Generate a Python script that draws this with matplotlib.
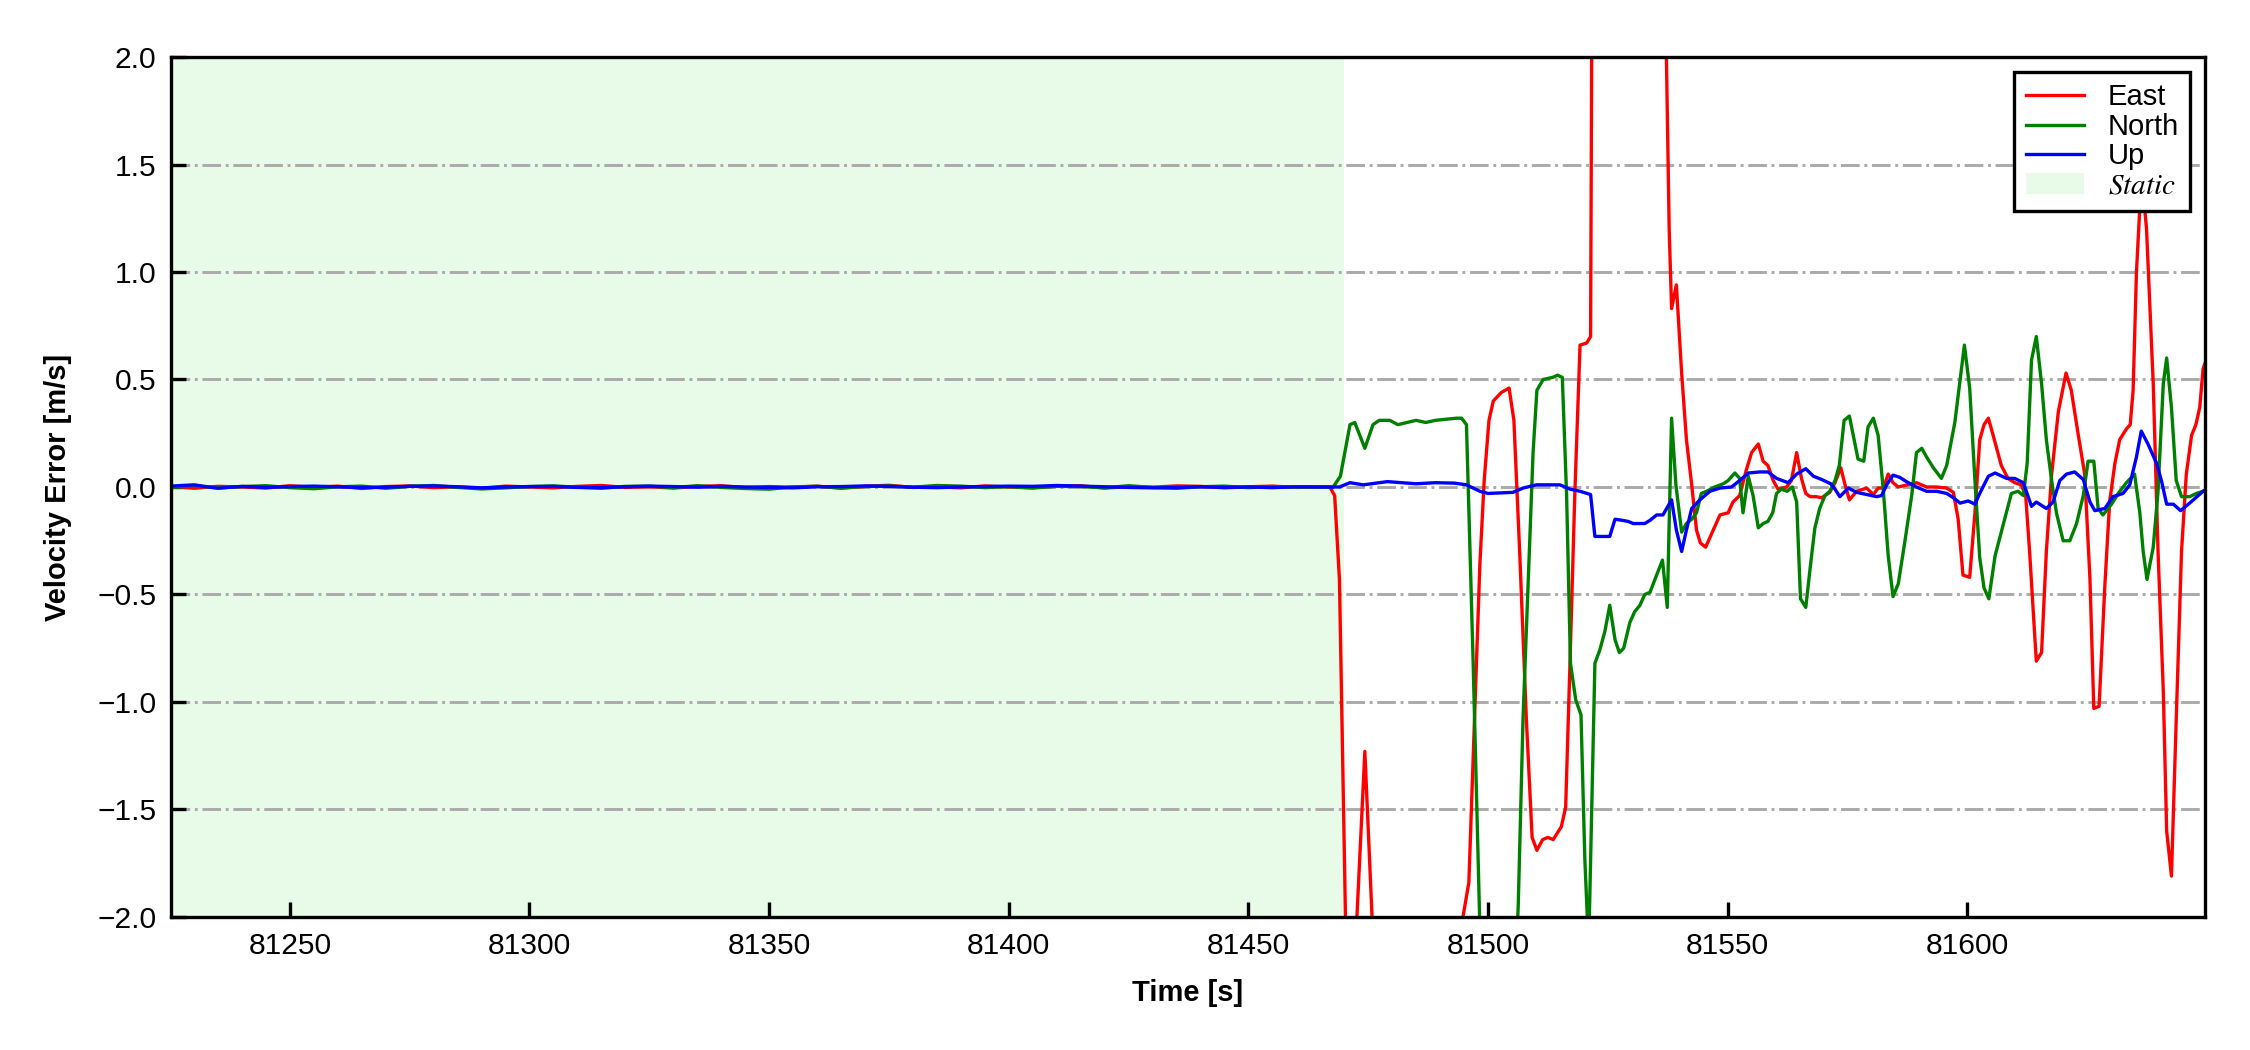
import numpy as np
import matplotlib
matplotlib.use("Agg")
import matplotlib.pyplot as plt

plt.rcParams['font.family'] = ['Liberation Sans', 'DejaVu Sans']
plt.rcParams['mathtext.fontset'] = 'stix'

# static period (timestamps every 5 s), near-zero errors
static_t = np.arange(81225, 81466, 5)
static_end = 81470
east_static = [0.004, -0.006, 0.003, 0.000, -0.005, 0.006, -0.002, 0.004, -0.007, 0.002,
               0.005, -0.003, 0.001, -0.006, 0.004, 0.000, -0.004, 0.003, 0.007, -0.002,
               0.001, -0.005, 0.003, 0.006, -0.003, 0.002, -0.001, 0.004, -0.006, 0.003,
               0.008, -0.002, 0.001, -0.004, 0.005, 0.000, -0.003, 0.004, 0.006, -0.005,
               0.002, -0.001, 0.005, 0.003, -0.004, 0.001, 0.004, -0.002, 0.000]
north_static = [-0.003, 0.005, -0.004, 0.002, 0.006, -0.003, -0.008, 0.001, 0.004, -0.006,
                0.003, 0.007, -0.002, -0.009, -0.004, 0.002, 0.005, -0.001, -0.006, 0.003,
                0.004, -0.003, 0.006, -0.002, -0.007, -0.010, 0.001, 0.003, -0.004, 0.002,
                0.005, -0.001, 0.007, 0.004, -0.003, 0.001, -0.005, 0.003, 0.002, -0.004,
                0.006, -0.002, -0.006, 0.001, 0.004, -0.003, 0.002, -0.001, 0.000]
up_static = [0.004, 0.010, -0.006, 0.003, -0.002, 0.002, 0.004, 0.001, -0.003, -0.001,
             0.003, 0.005, 0.001, -0.004, 0.000, 0.002, 0.003, -0.002, -0.003, 0.001,
             0.004, 0.002, -0.001, 0.003, 0.000, -0.002, -0.004, 0.001, 0.002, 0.005,
             0.003, -0.001, -0.003, 0.000, 0.002, 0.004, 0.003, 0.007, 0.004, 0.001,
             -0.002, -0.004, -0.003, 0.001, -0.002, 0.000, -0.003, 0.001, 0.000]

# dynamic period
east_t = [81467, 81468, 81469, 81470.5, 81471, 81472, 81474.3, 81476, 81478, 81482, 81486,
          81490, 81494, 81495, 81496, 81498.3, 81499.2, 81500.2, 81501.1, 81502.8, 81504.4,
          81505.4, 81506.6, 81508, 81509.2, 81510.2, 81511.4, 81512.5, 81513.6, 81515.3,
          81516.2, 81517.1, 81518.1, 81519.2, 81520.6, 81521.4, 81521.7, 81525, 81530,
          81535, 81537, 81537.8, 81538.3, 81539.3, 81540.4, 81541.4, 81542.5, 81543.5,
          81544.3, 81545.4, 81547, 81548.4, 81550.1, 81551.1, 81552.5, 81553.9, 81555,
          81556.4, 81557.4, 81558.4, 81559.5, 81560.5, 81562.3, 81563.3, 81564.4, 81565.4,
          81566.3, 81567.2, 81568.5, 81569.6, 81571.3, 81572.4, 81573.6, 81574.5, 81575.4,
          81576.9, 81579, 81580.4, 81581.4, 81582.5, 81583.5, 81584.5, 81585.6, 81589.4,
          81591.5, 81593.6, 81595.7, 81597.1, 81598.1, 81599.1, 81600.5, 81601.6, 81602.6,
          81603.5, 81604.4, 81605.4, 81607.1, 81608.5, 81609.9, 81611.3, 81612.2, 81613,
          81614.4, 81615.5, 81616.5, 81617.6, 81619, 81620.6, 81621.7, 81623.1, 81624.5,
          81625.6, 81626.4, 81627.5, 81628.7, 81629.7, 81630.8, 81631.8, 81633.2, 81634,
          81634.6, 81635.3, 81636, 81636.8, 81637.4, 81638.8, 81639.8, 81640.9, 81641.6,
          81642.6, 81643.6, 81644.7, 81645.7, 81646.8, 81647.7, 81648.5, 81649.2, 81650]
east_v = [0.0, -0.04, -0.43, -2.3, -2.6, -2.3, -1.23, -2.1, -2.6, -2.8, -2.7,
          -2.5, -2.1, -1.97, -1.84, -0.36, 0.03, 0.31, 0.40, 0.44, 0.46,
          0.31, -0.30, -1.08, -1.63, -1.69, -1.64, -1.63, -1.64, -1.58,
          -1.49, -0.82, -0.04, 0.66, 0.67, 0.70, 2.4, 3.1, 3.4,
          2.9, 2.3, 1.2, 0.83, 0.94, 0.53, 0.22, 0.01, -0.20,
          -0.26, -0.28, -0.20, -0.13, -0.12, -0.07, -0.04, 0.08, 0.16,
          0.20, 0.12, 0.10, 0.03, -0.01, 0.0, 0.03, 0.16, 0.04,
          -0.03, -0.045, -0.045, -0.05, -0.025, 0.02, 0.09, 0.01, -0.06,
          -0.02, -0.005, -0.035, -0.005, -0.005, 0.06, 0.02, 0.0, 0.02,
          0.0, 0.0, -0.005, -0.025, -0.15, -0.41, -0.42, -0.12, 0.22,
          0.29, 0.32, 0.24, 0.10, 0.04, 0.02, 0.01, -0.045, -0.30,
          -0.81, -0.77, -0.30, 0.06, 0.35, 0.53, 0.45, 0.25, 0.06,
          -0.43, -1.03, -1.02, -0.46, -0.07, 0.11, 0.22, 0.27, 0.29,
          0.45, 1.0, 1.3, 1.35, 1.2, 0.48, -0.30, -0.95, -1.6,
          -1.81, -1.08, -0.30, 0.06, 0.24, 0.29, 0.37, 0.55, 0.6]

north_t = [81467.7, 81469.2, 81471.2, 81472.2, 81474.3, 81476, 81477.3, 81479.5, 81481.2,
           81485, 81487, 81489, 81493.4, 81494.5, 81495.5, 81496.9, 81498.3, 81500, 81503,
           81505.5, 81506.3, 81507.3, 81508.4, 81509.4, 81510.2, 81511.5, 81513.5, 81514.5,
           81515.5, 81516.4, 81517.2, 81518.3, 81519.4, 81520.2, 81521, 81522.3, 81523.3,
           81524.4, 81525.4, 81526.5, 81527.4, 81528.3, 81529.6, 81530.6, 81531.7, 81532.7,
           81533.8, 81535, 81536.4, 81537.4, 81538.3, 81539.2, 81540.4, 81541.4, 81542.5,
           81543.5, 81544.5, 81545.6, 81547.3, 81549.1, 81550.1, 81551.5, 81552.5, 81553.2,
           81554.3, 81555.3, 81556.4, 81557.4, 81558.4, 81559.4, 81560.2, 81561.2, 81562.4,
           81563.5, 81564.4, 81565.2, 81566.3, 81567.3, 81568.2, 81569.2, 81570.3, 81571.3,
           81572.4, 81573.3, 81574.3, 81575.4, 81576.3, 81577.2, 81578.4, 81579.3, 81580.4,
           81581.4, 81582.5, 81583.5, 81584.5, 81585.6, 81587, 81588.4, 81589.4, 81590.5,
           81591.5, 81592.9, 81594.6, 81595.7, 81597.4, 81598.5, 81599.4, 81600.5, 81601.6,
           81602.6, 81603.5, 81604.5, 81605.8, 81607.8, 81609.2, 81610.6, 81611.7, 81612.5,
           81613.4, 81614.4, 81615.5, 81616.5, 81617.6, 81618.6, 81620, 81621.4, 81622.8,
           81624.2, 81625.2, 81626.4, 81627.3, 81628.3, 81630.1, 81631.5, 81633.2, 81634.9,
           81636, 81636.7, 81637.5, 81638.8, 81639.8, 81640.9, 81641.6, 81642.6, 81643.6,
           81644.7, 81646.4, 81647.8, 81649.2, 81650]
north_v = [0.0, 0.05, 0.29, 0.30, 0.18, 0.29, 0.31, 0.31, 0.29,
           0.31, 0.30, 0.31, 0.32, 0.32, 0.29, -0.82, -2.05, -2.6, -2.8,
           -2.4, -1.95, -1.08, -0.43, 0.16, 0.45, 0.50, 0.51, 0.52,
           0.51, -0.04, -0.82, -0.99, -1.06, -1.73, -2.15, -0.82, -0.76,
           -0.67, -0.55, -0.71, -0.77, -0.75, -0.63, -0.58, -0.55, -0.50,
           -0.49, -0.42, -0.34, -0.56, 0.32, 0.01, -0.21, -0.17, -0.15,
           -0.12, -0.03, -0.02, 0.0, 0.015, 0.03, 0.065, 0.04, -0.12,
           0.05, -0.04, -0.19, -0.17, -0.16, -0.12, -0.03, -0.01, -0.02,
           0.0, -0.07, -0.52, -0.56, -0.36, -0.19, -0.10, -0.04, -0.02,
           0.03, 0.10, 0.31, 0.33, 0.23, 0.13, 0.12, 0.28, 0.32,
           0.24, -0.02, -0.32, -0.51, -0.45, -0.25, -0.04, 0.16, 0.18,
           0.14, 0.09, 0.04, 0.10, 0.30, 0.50, 0.66, 0.46, 0.03,
           -0.33, -0.47, -0.52, -0.32, -0.15, -0.03, -0.02, -0.04, 0.11,
           0.59, 0.70, 0.48, 0.22, 0.03, -0.12, -0.25, -0.25, -0.17,
           -0.04, 0.12, 0.12, -0.10, -0.13, -0.08, -0.03, 0.02, 0.06,
           -0.12, -0.30, -0.43, -0.28, -0.02, 0.48, 0.60, 0.37, 0.03,
           -0.045, -0.045, -0.03, -0.02, -0.01]

up_t = [81469, 81471.2, 81474, 81479, 81485, 81489, 81493, 81495.5, 81498.3, 81500,
        81505.2, 81507.3, 81510.1, 81515, 81517.1, 81519.2, 81521.4, 81522.3, 81525.4,
        81526.5, 81528, 81529.2, 81530.3, 81532.7, 81533.8, 81535.2, 81536.5, 81538.3,
        81539.3, 81540.4, 81541.4, 81542.5, 81544.2, 81546.3, 81548.4, 81550.8, 81552.5,
        81554.3, 81556.7, 81558.4, 81560.2, 81562.6, 81564.4, 81566.3, 81567.9, 81569.6,
        81571.5, 81572.4, 81573.4, 81575.2, 81576.9, 81579, 81581.1, 81582.1, 81583.2,
        81584.5, 81585.9, 81587.3, 81589.4, 81591.5, 81593.6, 81595.7, 81597.1, 81598.5,
        81600.2, 81601.6, 81602.6, 81604.4, 81605.8, 81608.2, 81609.9, 81611.7, 81612.7,
        81613.4, 81614.4, 81616.5, 81617.9, 81619.3, 81620.7, 81622.4, 81624.2, 81625.6,
        81626.6, 81628.7, 81630.4, 81632.5, 81633.9, 81635.3, 81636.3, 81637.7, 81639.5,
        81640.5, 81641.6, 81643, 81644.5, 81646.4, 81649.2, 81650]
up_v = [0.0, 0.02, 0.01, 0.025, 0.015, 0.02, 0.018, 0.01, -0.02, -0.03,
        -0.025, -0.005, 0.01, 0.01, -0.01, -0.02, -0.035, -0.23, -0.23,
        -0.15, -0.155, -0.16, -0.17, -0.17, -0.155, -0.13, -0.13, -0.06,
        -0.20, -0.30, -0.20, -0.10, -0.06, -0.02, -0.005, 0.0, 0.03,
        0.065, 0.07, 0.07, 0.04, 0.02, 0.06, 0.085, 0.05, 0.035,
        0.015, -0.01, -0.045, -0.005, -0.025, -0.035, -0.045, -0.04, 0.01,
        0.055, 0.045, 0.025, 0.0, -0.02, -0.02, -0.03, -0.05, -0.075,
        -0.065, -0.08, -0.03, 0.05, 0.065, 0.04, 0.04, 0.02, -0.045,
        -0.09, -0.07, -0.10, -0.07, 0.03, 0.06, 0.07, 0.035, -0.07,
        -0.11, -0.10, -0.045, -0.03, 0.01, 0.14, 0.26, 0.20, 0.11,
        0.03, -0.08, -0.08, -0.11, -0.075, -0.02, -0.01]

t_e = np.concatenate([static_t, east_t])
t_n = np.concatenate([static_t, north_t])
t_u = np.concatenate([static_t, up_t])
v_e = np.concatenate([east_static, east_v])
v_n = np.concatenate([north_static, north_v])
v_u = np.concatenate([up_static, up_v])

fig = plt.figure(figsize=(7.5, 3.5), dpi=300)
ax = fig.add_axes([0.076, 0.1267, 0.904, 0.819])

ax.plot(t_e, v_e, color='red', lw=0.8, label='East')
ax.plot(t_n, v_n, color='green', lw=0.8, label='North')
ax.plot(t_u, v_u, color='blue', lw=0.8, label='Up')
ax.axvspan(static_t[0] - 10, static_end, color='lightgreen', alpha=0.2, lw=0, label='$Static$')

ax.set_xlim(81225.2, 81649.6)
ax.set_ylim(-2.0, 2.0)
ax.set_xticks([81250, 81300, 81350, 81400, 81450, 81500, 81550, 81600])
ax.set_yticks(np.arange(-2.0, 2.01, 0.5))
ax.yaxis.grid(True, linestyle='-.', color='#aaaaaa', lw=0.7)
ax.tick_params(direction='in', labelsize=7.2, width=0.8, length=3.5)
for s in ax.spines.values():
    s.set_linewidth(0.8)

lab_font = dict(family=['Liberation Sans', 'DejaVu Sans'], weight='bold', size=7)
ax.set_xlabel('Time [s]', fontdict=lab_font, labelpad=4.6)
ax.set_ylabel('Velocity Error [m/s]', fontdict=lab_font, labelpad=6)

leg = ax.legend(loc='upper right', fontsize=7, fancybox=False, framealpha=1,
                edgecolor='black', labelspacing=0.05)
leg.get_frame().set_linewidth(0.8)

fig.savefig('out.png', dpi=300)
